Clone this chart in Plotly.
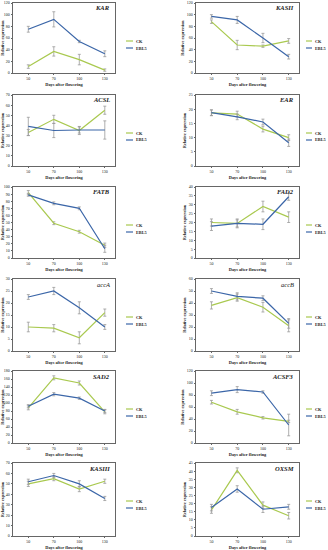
import plotly.graph_objects as go

days = ["50", "70", "100", "130"]
genes = ["KAR", "KASII", "ACSL", "EAR", "FATB", "FAD2", "accA", "accB", "SAD2", "ACSF3", "KASIII", "OXSM"]
series_names = ["CK", "EBL5"]

ck = {
    "KAR": [11, 37, 23, 5],
    "KASII": [88, 48, 46, 55],
    "ACSL": [33, 46, 35, 55],
    "EAR": [18.7, 18.3, 13.0, 10.0],
    "FATB": [92, 49, 37, 18],
    "FAD2": [20, 19.5, 29, 23],
    "accA": [10, 9.5, 5.5, 16],
    "accB": [38, 44.5, 36.5, 21],
    "SAD2": [88, 163, 150, 78],
    "ACSF3": [68, 52, 42, 36],
    "KASIII": [50, 55, 45, 52.5],
    "OXSM": [16, 40.5, 19, 12.5],
}
ck_err = {
    "KAR": [3, 8, 9, 2],
    "KASII": [3, 8, 2, 4],
    "ACSL": [3, 4, 4, 4],
    "EAR": [1, 1, 1, 1],
    "FATB": [3, 2, 2, 3],
    "FAD2": [2, 2.5, 3, 3],
    "accA": [2, 1.5, 2.5, 1.5],
    "accB": [3, 3, 4, 5],
    "SAD2": [5, 5, 5, 5],
    "ACSF3": [3, 4, 2, 2],
    "KASIII": [2.5, 2, 2.5, 2],
    "OXSM": [2, 1.5, 2, 2],
}
ebl = {
    "KAR": [75, 92, 54, 33],
    "KASII": [97, 91, 60, 28],
    "ACSL": [39, 35, 35.5, 35.5],
    "EAR": [18.8, 17.3, 15.5, 8.2],
    "FATB": [89, 77, 70, 13],
    "FAD2": [18, 19.5, 19, 34.5],
    "accA": [22.5, 25, 18, 10],
    "accB": [50, 45.5, 44, 23],
    "SAD2": [92, 122, 112, 80],
    "ACSF3": [83, 89, 85, 30],
    "KASIII": [52, 58, 50, 36],
    "OXSM": [17.5, 29, 16.5, 18],
}
ebl_err = {
    "KAR": [5, 13, 2, 5],
    "KASII": [3, 6, 8, 4],
    "ACSL": [9, 7, 3, 9],
    "EAR": [1, 1, 1, 1.3],
    "FATB": [2, 2, 2, 5],
    "FAD2": [2.5, 2, 3, 2],
    "accA": [1, 1.5, 2.5, 1],
    "accB": [2, 3, 2, 4],
    "SAD2": [4, 4, 3, 4],
    "ACSF3": [4, 5, 2, 18],
    "KASIII": [2.5, 2, 3, 2],
    "OXSM": [2, 2, 2, 1.5],
}
y_max = {"KAR": 120, "KASII": 120, "ACSL": 70, "EAR": 25, "FATB": 100, "FAD2": 40,
         "accA": 30, "accB": 60, "SAD2": 180, "ACSF3": 120, "KASIII": 70, "OXSM": 45}
y_step = {"KAR": 20, "KASII": 20, "ACSL": 10, "EAR": 5, "FATB": 10, "FAD2": 5,
          "accA": 5, "accB": 10, "SAD2": 20, "ACSF3": 20, "KASIII": 10, "OXSM": 5}
plain_italic = {"accA", "accB"}

W, H = 328, 550
rows_px = [(3, 73), (95, 166), (187, 258), (279, 351), (371, 443), (463, 536)]
cols_px = [(13, 115), (196, 299)]
legend_line_px = [(126, 133), (306, 312)]
legend_rows_px = [38, 45]

CK_COLOR = "#a9c94f"
EBL_COLOR = "#3b66a8"
colors = [CK_COLOR, EBL_COLOR]
ERR_COLOR = "#9a9a9a"
FONT = "Liberation Serif"

fig = go.Figure()
layout = dict(width=W, height=H, margin=dict(l=0, r=0, t=0, b=0, autoexpand=False),
              paper_bgcolor="white", plot_bgcolor="white", showlegend=False,
              font=dict(family=FONT, color="#222"))
annotations = []
shapes = []

for i, g in enumerate(genes):
    r, c = divmod(i, 2)
    n = i + 1
    xa = "x" if n == 1 else f"x{n}"
    ya = "y" if n == 1 else f"y{n}"
    for name, vals, errs, col in (("CK", ck[g], ck_err[g], CK_COLOR),
                                  ("EBL5", ebl[g], ebl_err[g], EBL_COLOR)):
        fig.add_trace(go.Scatter(
            x=days, y=vals, name=name, mode="lines",
            line=dict(color=col, width=1.2),
            error_y=dict(type="data", array=errs, color=ERR_COLOR, thickness=0.8, width=1.5),
            xaxis=xa, yaxis=ya))
    top, bot = rows_px[r]
    left, right = cols_px[c]
    xd = [left / W, right / W]
    yd = [1 - bot / H, 1 - top / H]
    axis_common = dict(showline=True, linecolor="#666", linewidth=0.7, mirror=True,
                       showgrid=False, zeroline=False, ticks="outside", ticklen=1.5,
                       tickwidth=0.6, tickcolor="#666", automargin=False,
                       tickfont=dict(family=FONT, size=4, color="#222"))
    layout["xaxis" if n == 1 else f"xaxis{n}"] = dict(
        axis_common, domain=xd, anchor=ya, type="category", range=[-0.6, 3.4],
        title=dict(text="<b>Days after flowering</b>", font=dict(family=FONT, size=4.3), standoff=2))
    layout["yaxis" if n == 1 else f"yaxis{n}"] = dict(
        axis_common, domain=yd, anchor=xa, range=[0, y_max[g]], dtick=y_step[g], tick0=0,
        title=dict(text="<b>Relative expression</b>", font=dict(family=FONT, size=4.3), standoff=2))
    # legend (drawn as layout decoration)
    lx0, lx1 = legend_line_px[c]
    row_origin = 92 * r
    for k, (nm, col) in enumerate(zip(series_names, colors)):
        ly = row_origin + legend_rows_px[k] + 3
        shapes.append(dict(type="line", xref="paper", yref="paper",
                           x0=lx0 / W, x1=lx1 / W, y0=1 - ly / H, y1=1 - ly / H,
                           line=dict(color=col, width=1.2)))
        annotations.append(dict(text=f"<b>{nm}</b>", xref="paper", yref="paper",
                                x=(lx1 + 2) / W, y=1 - ly / H, xanchor="left", yanchor="middle",
                                showarrow=False, borderpad=0,
                                font=dict(family=FONT, size=4.3, color="#222")))
    label = f"<i>{g}</i>" if g in plain_italic else f"<b><i>{g}</i></b>"
    annotations.append(dict(text=label, xref=f"{xa} domain", yref=f"{ya} domain",
                            x=0.97, y=0.93, xanchor="right", yanchor="middle", showarrow=False,
                            font=dict(family=FONT, size=6.5, color="#222")))

layout["annotations"] = annotations
layout["shapes"] = shapes
fig.update_layout(**layout)
fig.write_html("out.html", config={"displayModeBar": False},
               post_script="document.body.style.margin='0';document.body.style.padding='0';")
